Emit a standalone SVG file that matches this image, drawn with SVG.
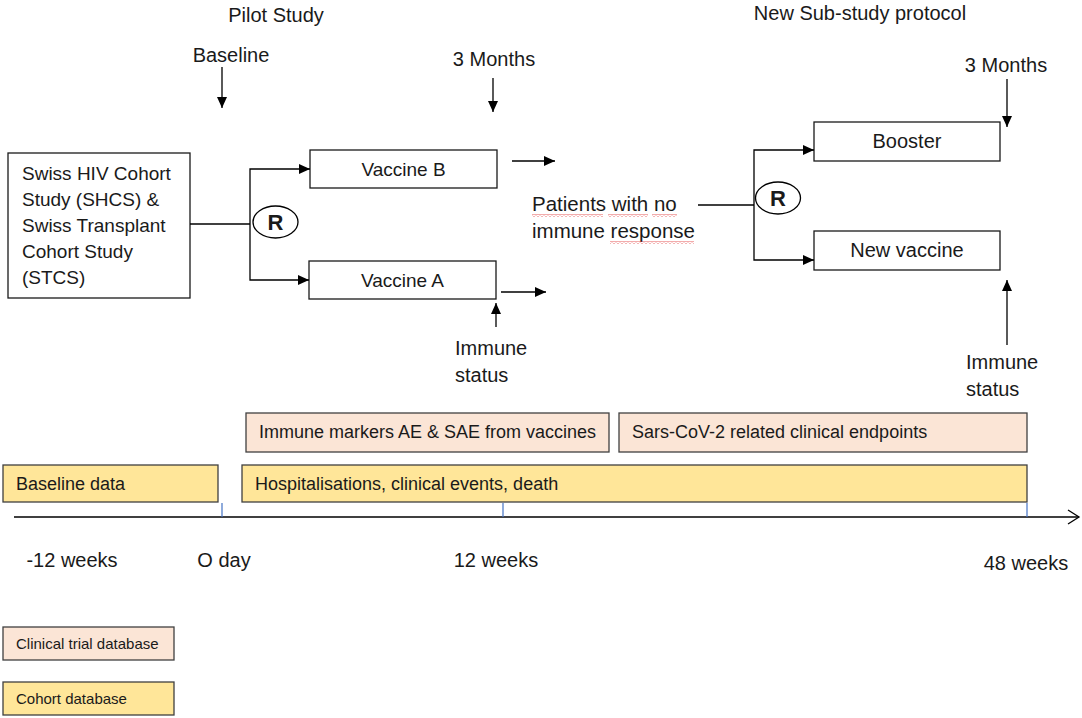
<svg xmlns="http://www.w3.org/2000/svg" width="1082" height="718" viewBox="0 0 1082 718">
<style>
text{font-family:"Liberation Sans",Arial,sans-serif;font-size:20px;fill:#1a1a1a}
.box{fill:#fff;stroke:#1a1a1a;stroke-width:1.3}
.pink{fill:#FBE5D6;stroke:#404040;stroke-width:1.3}
.yel{fill:#FFE699;stroke:#404040;stroke-width:1.3}
.ln{fill:none;stroke:#000;stroke-width:1.3}
.arr{fill:none;stroke:#000;stroke-width:1.3;marker-end:url(#ah)}
.tick{stroke:#4472C4;stroke-width:1.2}
.c{text-anchor:middle}
.r{font-weight:bold;font-size:22px;text-anchor:middle}
.sm{font-size:15px}
.bar{font-size:18px}
.coh{font-size:19px}
.pat{font-size:20.5px}
</style>
<defs>
<marker id="ah" markerUnits="userSpaceOnUse" markerWidth="12" markerHeight="10" refX="11" refY="5" orient="auto">
<path d="M0,0 L11,5 L0,10 Z" fill="#000"/>
</marker>
<marker id="open" markerUnits="userSpaceOnUse" markerWidth="14" markerHeight="16" refX="12" refY="8" orient="auto">
<path d="M1,1 L12,8 L1,15" fill="none" stroke="#000" stroke-width="1.3"/>
</marker>
<pattern id="wave" patternUnits="userSpaceOnUse" width="4" height="3" x="0" y="0">
<path d="M0,2.5 L2,0.5 L4,2.5" fill="none" stroke="#e03030" stroke-width="0.8"/>
</pattern>
</defs>

<g id="headers">
<text x="276" y="22" class="c">Pilot Study</text>
<text x="860" y="20" class="c">New Sub-study protocol</text>
<text x="231" y="62" class="c">Baseline</text>
<text x="494" y="66" class="c">3 Months</text>
<text x="1006" y="72" class="c">3 Months</text>
</g>

<g id="cohorts">
<rect class="box" x="8" y="153" width="182" height="145"/>
<text x="22" y="180" class="coh">Swiss HIV Cohort</text>
<text x="22" y="206" class="coh">Study (SHCS) &amp;</text>
<text x="22" y="232" class="coh">Swiss Transplant</text>
<text x="22" y="258" class="coh">Cohort Study</text>
<text x="22" y="284" class="coh">(STCS)</text>
</g>

<g id="random1">
<ellipse cx="275.5" cy="222" rx="22.5" ry="16" fill="#fff" stroke="#000" stroke-width="1.3"/>
<text x="275.5" y="230" class="r">R</text>
</g>

<g id="vaccineB">
<rect class="box" x="310" y="150" width="187" height="38"/>
<text x="403.5" y="176" class="c coh">Vaccine B</text>
</g>

<g id="vaccineA">
<rect class="box" x="309" y="261" width="187" height="38"/>
<text x="402.5" y="287" class="c coh">Vaccine A</text>
</g>

<g id="immune1">
<text x="455" y="355">Immune</text>
<text x="455" y="382">status</text>
</g>

<g id="patients">
<text x="532" y="211" class="pat">Patients with no</text>
<text x="532" y="238" class="pat">immune response</text>
<rect x="532" y="214" width="71" height="3" fill="url(#wave)"/>
<rect x="608" y="214" width="40" height="3" fill="url(#wave)"/>
<rect x="652" y="214" width="25" height="3" fill="url(#wave)"/>
<rect x="610" y="241" width="84" height="3" fill="url(#wave)"/>
</g>

<g id="random2">
<ellipse cx="778" cy="198" rx="22.5" ry="16" fill="#fff" stroke="#000" stroke-width="1.3"/>
<text x="778" y="206" class="r">R</text>
</g>

<g id="booster">
<rect class="box" x="814" y="122" width="186" height="39"/>
<text x="907" y="148" class="c">Booster</text>
</g>

<g id="newvaccine">
<rect class="box" x="814" y="231" width="186" height="39"/>
<text x="907" y="257" class="c">New vaccine</text>
</g>

<g id="immune2">
<text x="966" y="369">Immune</text>
<text x="966" y="396">status</text>
</g>

<g id="connectors">
<line class="arr" x1="222" y1="67" x2="222" y2="108"/>
<line class="arr" x1="493" y1="78" x2="493" y2="112"/>
<line class="arr" x1="1007" y1="79" x2="1007" y2="127"/>
<polyline class="ln" points="190,224 250,224"/>
<polyline class="arr" points="250,224 250,169 310,169"/>
<polyline class="arr" points="250,224 250,280 309,280"/>
<line class="arr" x1="512" y1="161" x2="555" y2="161"/>
<line class="arr" x1="501" y1="292" x2="546" y2="292"/>
<line class="arr" x1="496" y1="327" x2="496" y2="303"/>
<polyline class="ln" points="698,205 754,205"/>
<polyline class="arr" points="754,205 754,150 814,150"/>
<polyline class="arr" points="754,205 754,260 814,260"/>
<line class="arr" x1="1007" y1="345" x2="1007" y2="280"/>
</g>

<g id="bars">
<rect class="pink" x="246" y="413" width="363" height="39"/>
<text x="259" y="438" class="bar">Immune markers AE &amp; SAE from vaccines</text>
<rect class="pink" x="619" y="413" width="408" height="39"/>
<text x="632" y="438" class="bar">Sars-CoV-2 related clinical endpoints</text>
<rect class="yel" x="3" y="465" width="215" height="37"/>
<text x="16" y="490" class="bar">Baseline data</text>
<rect class="yel" x="242" y="465" width="785" height="37"/>
<text x="255" y="490" class="bar">Hospitalisations, clinical events, death</text>
</g>

<g id="timeline">
<line x1="14" y1="517" x2="1079" y2="517" stroke="#000" stroke-width="1.3" marker-end="url(#open)"/>
<line class="tick" x1="222" y1="503" x2="222" y2="517"/>
<line class="tick" x1="503" y1="503" x2="503" y2="517"/>
<line class="tick" x1="1027" y1="503" x2="1027" y2="517"/>
<text x="72" y="567" class="c">-12 weeks</text>
<text x="224" y="567" class="c">O day</text>
<text x="496" y="567" class="c">12 weeks</text>
<text x="1026" y="570" class="c">48 weeks</text>
</g>

<g id="legend">
<rect class="pink" x="3" y="627" width="171" height="33"/>
<text x="16" y="649" class="sm">Clinical trial database</text>
<rect class="yel" x="3" y="682" width="171" height="33"/>
<text x="16" y="704" class="sm">Cohort database</text>
</g>
</svg>
